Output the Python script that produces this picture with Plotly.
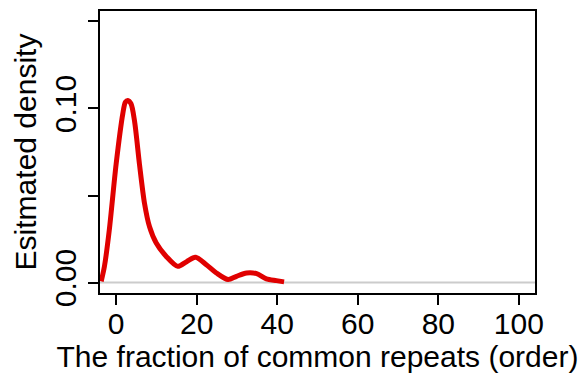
import plotly.graph_objects as go

# Estimated density of the fraction of common repeats (order)
frac = [-3.7, -2.9, -1.7, 0.0, 1.66, 2.3, 2.9, 3.7, 4.56, 5.8, 7.05, 8.3, 9.96,
        12.45, 15.3, 17.5, 19.7, 22.4, 24.9, 27.8, 29.9, 32.4, 34.9, 37.3,
        39.8, 41.7]
density = [0.0007, 0.0093, 0.030, 0.068, 0.097, 0.1036, 0.1046, 0.1027, 0.093,
           0.068, 0.0455, 0.032, 0.0227, 0.015, 0.0093, 0.012, 0.0145, 0.0103,
           0.0055, 0.0017, 0.0036, 0.0055, 0.0051, 0.0021, 0.0011, 0.0004]

x_ticks = [0, 20, 40, 60, 80, 100]
y_ticks = [0.00, 0.05, 0.10, 0.15]
y_tick_text = ["0.00", "", "0.10", ""]

font = "Liberation Sans, Arial, sans-serif"

fig = go.Figure()
fig.add_trace(go.Scatter(
    x=frac, y=density, mode="lines",
    line=dict(color="#e00000", width=5, shape="spline", smoothing=0.8),
    showlegend=False,
))

# horizontal reference line at zero
fig.add_shape(type="line", xref="paper", yref="y", x0=0, x1=1, y0=0, y1=0,
              line=dict(color="#cccccc", width=2), layer="below")

axis_common = dict(
    showline=True, linecolor="black", linewidth=2, mirror=True,
    ticks="outside", ticklen=10, tickwidth=2, tickcolor="black",
    showgrid=False, zeroline=False, automargin=False,
    tickfont=dict(family=font, size=30, color="black"),
)

fig.update_xaxes(
    range=[-4, 104], tickvals=x_ticks, ticklabelstandoff=-7,
    title=dict(text="The fraction of common repeats (order)",
               font=dict(family=font, size=30, color="black"), standoff=4),
    **axis_common,
)
fig.update_yaxes(
    range=[-0.006, 0.156], tickvals=y_ticks, ticktext=y_tick_text,
    tickangle=-90,
    title=dict(text="Esitmated density",
               font=dict(family=font, size=30, color="black"), standoff=4),
    **axis_common,
)

fig.update_layout(
    width=581, height=377,
    margin=dict(l=100, r=46, t=11, b=84),
    paper_bgcolor="white", plot_bgcolor="white",
)

fig.write_html("out.html")
